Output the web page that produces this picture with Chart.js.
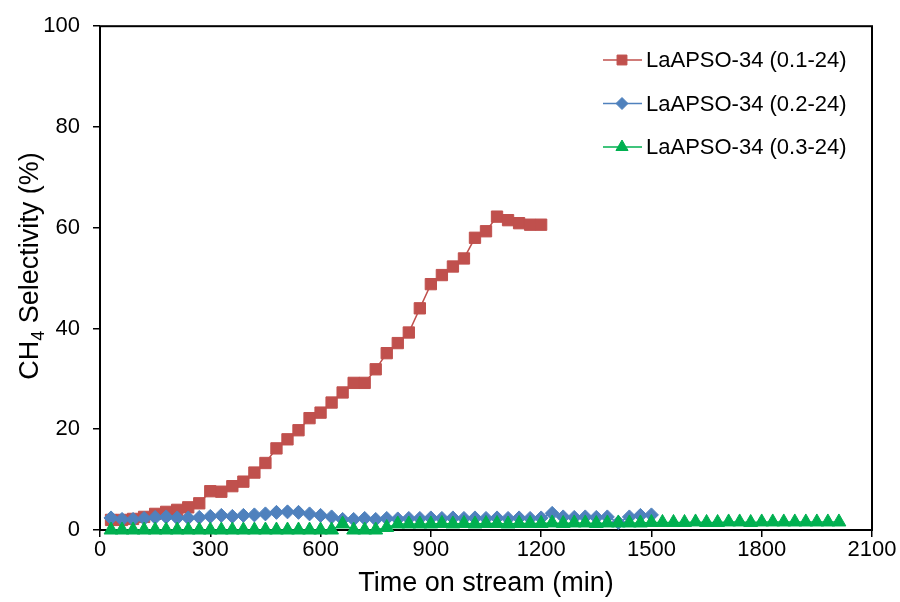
<!DOCTYPE html>
<html>
<head>
<meta charset="utf-8">
<script src="https://cdn.jsdelivr.net/npm/chart.js@4/dist/chart.umd.min.js"></script>
<style>
  html, body { margin: 0; padding: 0; background: #fff; }
  #wrap { width: 900px; height: 602px; }
</style>
</head>
<body>
<div id="wrap"><canvas id="chart" width="900" height="602"></canvas></div>
<script>
// time on stream (min)
const timeMin = [30, 60, 90, 120, 150, 180, 210, 240, 270, 300, 330, 360, 390, 420, 450, 480, 510, 540, 570, 600,
  630, 660, 690, 720, 750, 780, 810, 840, 870, 900, 930, 960, 990, 1020, 1050, 1080, 1110, 1140, 1170, 1200,
  1230, 1260, 1290, 1320, 1350, 1380, 1410, 1440, 1470, 1500,
  1530, 1560, 1590, 1620, 1650, 1680, 1710, 1740, 1770, 1800, 1830, 1860, 1890, 1920, 1950, 1980, 2010];

// CH4 selectivity (%)
const sel01 = [2.0, 2.0, 2.2, 2.6, 3.2, 3.6, 4.0, 4.5, 5.3, 7.7, 7.6, 8.7, 9.6, 11.4, 13.3, 16.2, 18.0, 19.8, 22.2, 23.3,
  25.3, 27.3, 29.2, 29.2, 31.9, 35.1, 37.1, 39.2, 44.0, 48.8, 50.6, 52.3, 53.9, 58.0, 59.3, 62.2, 61.5, 60.9, 60.6, 60.6];
const sel02 = [2.4, 2.1, 2.1, 2.3, 2.5, 2.6, 2.4, 2.4, 2.5, 2.7, 2.9, 2.7, 2.9, 3.0, 3.2, 3.5, 3.6, 3.5, 3.2, 2.9,
  2.6, 2.1, 2.1, 2.3, 2.1, 2.3, 2.2, 2.3, 2.3, 2.4, 2.3, 2.4, 2.3, 2.4, 2.3, 2.4, 2.3, 2.4, 2.3, 2.4,
  3.3, 2.6, 2.5, 2.6, 2.5, 2.6, 1.5, 2.6, 2.9, 3.0];
const sel03 = [0, 0, 0, 0, 0, 0, 0, 0, 0, 0, 0, 0, 0, 0, 0, 0, 0, 0, 0, 0,
  0, 1.2, 0, 0, 0, 0.5, 1.2, 1.2, 1.2, 1.2, 1.3, 1.2, 1.3, 1.2, 1.3, 1.3, 1.2, 1.3, 1.3, 1.3,
  1.4, 1.3, 1.4, 1.4, 1.3, 1.4, 1.4, 1.4, 1.4, 1.5,
  1.5, 1.5, 1.5, 1.6, 1.5, 1.5, 1.6, 1.6, 1.5, 1.6, 1.6, 1.6, 1.6, 1.6, 1.6, 1.6, 1.6];

const seriesNames = ['LaAPSO-34 (0.1-24)', 'LaAPSO-34 (0.2-24)', 'LaAPSO-34 (0.3-24)'];
const xTicks = [0, 300, 600, 900, 1200, 1500, 1800, 2100];
const yTicks = [0, 20, 40, 60, 80, 100];

const FONT = '"Liberation Sans", Arial, sans-serif';
const toPoints = (vals) => vals.map((v, i) => ({ x: timeMin[i], y: v }));

// plot frame under the markers; legend and axis titles on top
const framePlugin = {
    id: 'frame',
    beforeDatasetsDraw(chart) {
        const { ctx, chartArea: a } = chart;
        ctx.save();
        ctx.strokeStyle = '#000';
        ctx.lineWidth = 2;
        ctx.strokeRect(a.left, a.top, a.right - a.left, a.bottom - a.top);
        ctx.restore();
    },
    afterDraw(chart) {
        const { ctx, chartArea: a } = chart;
        ctx.save();

        // legend: line + marker + label
        ctx.textBaseline = 'middle';
        ctx.textAlign = 'left';
        ctx.font = `22px ${FONT}`;
        chart.data.datasets.forEach((ds, i) => {
            const y = 60 + i * 43.5;
            ctx.strokeStyle = ds.borderColor;
            ctx.lineWidth = 1.5;
            ctx.beginPath(); ctx.moveTo(603, y); ctx.lineTo(642, y); ctx.stroke();
            ctx.fillStyle = ds.backgroundColor;
            ctx.strokeStyle = ds.backgroundColor;
            ctx.lineWidth = 1;
            Chart.helpers.drawPoint(ctx, { pointStyle: ds.pointStyle, radius: ds.pointRadius - 1, borderWidth: 1, rotation: 0 }, 622, y);
            ctx.fillStyle = '#000';
            ctx.fillText(ds.label, 646, y + 1);
        });

        // x title
        ctx.fillStyle = '#000';
        ctx.textAlign = 'center';
        ctx.font = `27px ${FONT}`;
        ctx.fillText('Time on stream (min)', (a.left + a.right) / 2, 584);

        // y title with subscript
        ctx.translate(31, 266);
        ctx.rotate(-Math.PI / 2);
        const big = `27px ${FONT}`, small = `18px ${FONT}`;
        const p1 = 'CH', p2 = '4', p3 = ' Selectivity (%)';
        ctx.font = big; const w1 = ctx.measureText(p1).width, w3 = ctx.measureText(p3).width;
        ctx.font = small; const w2 = ctx.measureText(p2).width;
        let x = -(w1 + w2 + w3) / 2;
        ctx.textAlign = 'left';
        ctx.font = big; ctx.fillText(p1, x, 0); x += w1;
        ctx.font = small; ctx.fillText(p2, x, 8); x += w2;
        ctx.font = big; ctx.fillText(p3, x, 0);
        ctx.restore();
    }
};

const mk = (label, vals, color, style, r, order) => ({
    label, data: toPoints(vals), order,
    borderColor: color, backgroundColor: color,
    borderWidth: 1.5, pointStyle: style, pointRadius: r,
    pointBorderWidth: 1, pointBorderColor: color, pointBackgroundColor: color,
    tension: 0, clip: false
});

new Chart(document.getElementById('chart'), {
    type: 'line',
    data: {
        datasets: [
            mk(seriesNames[0], sel01, '#C0504D', 'rect', 8, 3),
            mk(seriesNames[1], sel02, '#4F81BD', 'rectRot', 7, 2),
            mk(seriesNames[2], sel03, '#00B050', 'triangle', 8, 1)
        ]
    },
    options: {
        responsive: false,
        animation: false,
        layout: { padding: { top: 24, right: 28, bottom: 0, left: 0 } },
        plugins: { legend: { display: false }, tooltip: { enabled: false } },
        scales: {
            x: {
                type: 'linear', min: 0, max: 2100,
                afterBuildTicks: (s) => { s.ticks = xTicks.map(v => ({ value: v })); },
                afterFit: (s) => { s.height = 72; },
                border: { display: false },
                grid: { drawOnChartArea: false, drawTicks: true, tickLength: 7, color: '#000', lineWidth: 1.5 },
                ticks: { color: '#000', padding: 0, maxRotation: 0, callback: (v) => String(v), font: { family: FONT, size: 22 } }
            },
            y: {
                min: 0, max: 100,
                afterBuildTicks: (s) => { s.ticks = yTicks.map(v => ({ value: v })); },
                afterFit: (s) => { s.width = 100; },
                border: { display: false },
                grid: { drawOnChartArea: false, drawTicks: true, tickLength: 7, color: '#000', lineWidth: 1.5 },
                ticks: { color: '#000', padding: 13, callback: (v) => String(v), font: { family: FONT, size: 22 } }
            }
        }
    },
    plugins: [framePlugin]
});
</script>
</body>
</html>
